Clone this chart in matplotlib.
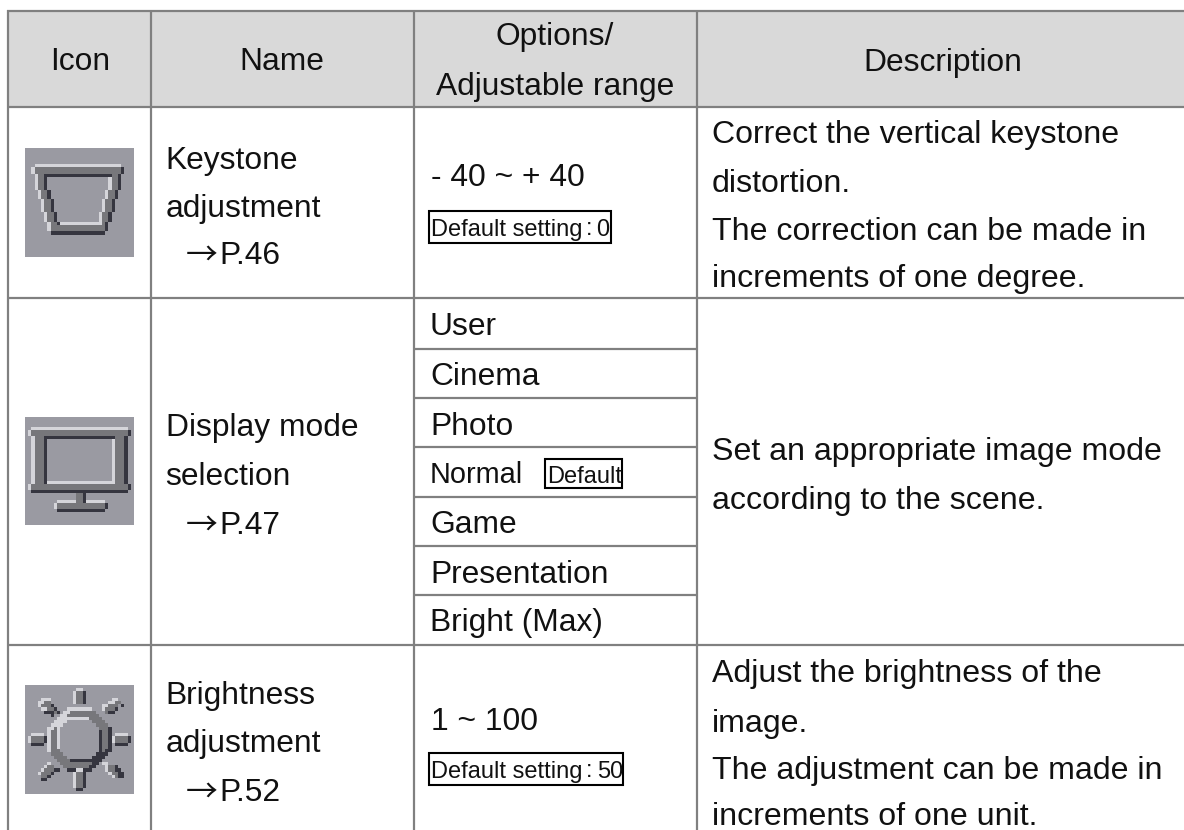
import numpy as np
import matplotlib
matplotlib.use("Agg")
import matplotlib.pyplot as plt
from matplotlib.colors import ListedColormap
from matplotlib.patches import Rectangle

plt.rcParams['font.family'] = ['Liberation Sans', 'DejaVu Sans']

headers = ["Icon", "Name", "Options/", "Adjustable range", "Description"]
names = [["Keystone", "adjustment"], ["Display mode", "selection"], ["Brightness", "adjustment"]]
pages = ["P.46", "P.47", "P.52"]
ranges = ["- 40 ~ + 40", "1 ~ 100"]
default_label = "Default setting"
default_values = ["0", "50"]
modes = ["User", "Cinema", "Photo", "Normal", "Game", "Presentation", "Bright (Max)"]
desc1 = ["Correct the vertical keystone", "distortion.", "The correction can be made in", "increments of one degree."]
desc2 = ["Set an appropriate image mode", "according to the scene."]
desc3 = ["Adjust the brightness of the", "image.", "The adjustment can be made in", "increments of one unit."]

W, H = 1184, 830
fig = plt.figure(figsize=(W/100, H/100), dpi=100)
ax = fig.add_axes([0, 0, 1, 1])
ax.set_xlim(0, W); ax.set_ylim(H, 0); ax.axis('off')

LINE = '#808080'
FS = 22.9
SMALL = 17
ax.add_patch(Rectangle((8, 11), W-8, 96, fc='#d9d9d9', ec='none', zorder=0))

def hl(y, x0, x1):
    ax.plot([x0, x1], [y, y], color=LINE, lw=1.6, solid_capstyle='butt', zorder=2)
def vl(x, y0, y1):
    ax.plot([x, x], [y0, y1], color=LINE, lw=1.6, solid_capstyle='butt', zorder=2)

for x in (8, 151, 414, 697):
    vl(x, 10, H)
for y in (11, 107, 298, 645):
    hl(y, 7, W)
for y in (349, 398, 447, 497, 546, 595):
    hl(y, 414, 697)

def t(x, y, s, ha='left', fs=FS, **kw):
    ax.text(x, y, s, ha=ha, va='center_baseline', fontsize=fs, color='#111111', zorder=3, **kw)

for x, y, s in zip((80, 282, 555, 555, 943), (59, 59, 34, 84, 59), headers):
    t(x, y, s, ha='center')

for lines, page, ys in zip(names, pages, ((157, 205, 252), (424, 473, 522), (692, 740, 789))):
    t(165.5, ys[0], lines[0]); t(165.5, ys[1], lines[1])
    ax.text(202, ys[2], "→", ha='center', va='center_baseline', fontsize=FS,
            family=['Noto Sans CJK JP'], color='#111111', zorder=3)
    t(219, ys[2], page)

t(431, 175, ranges[0]); t(431, 718, ranges[1])
for val, y, x1, vx in zip(default_values, (227, 769), (611, 623), (596, 597)):
    ax.add_patch(Rectangle((429, y-16), x1-429, 32, fc='none', ec='black', lw=1.5, zorder=3))
    t(431, y, default_label, fs=SMALL)
    t(589, y-1, ":", ha='center', fs=SMALL)
    t(vx, y, val, fs=SMALL)

for s, y in zip(modes, (323, 373, 423, 472, 521, 571, 619)):
    t(430, y, s, fs=20.8 if s == "Normal" else FS)
ax.add_patch(Rectangle((545, 459), 77, 29, fc='none', ec='black', lw=1.5, zorder=3))
t(547, 474, "Default", fs=SMALL)

for s, y in zip(desc1, (132, 180, 228, 275)):
    t(712, y, s, fs=23.1)
for s, y in zip(desc2, (448, 497)):
    t(712, y, s, fs=23.1)
for s, y in zip(desc3, (670, 720, 767, 813)):
    t(712, y, s, fs=23.1)

BG, MID, LT, DK = 0, 1, 2, 3
cmap = ListedColormap(['#9a9aa2', '#77777b', '#d5d5da', '#35353f'])
N = 34

def icon(grid, x0, y0):
    ax.imshow(grid, cmap=cmap, vmin=0, vmax=3, extent=(x0, x0+109, y0+108, y0),
              interpolation='nearest', aspect='auto', zorder=1)

# icon 1: trapezoid
g = np.zeros((N, N), int)
steps = [(8, 12, 3), (13, 15, 4), (16, 19, 5), (20, 22, 6), (23, 25, 7)]
g[5, 3:30] = LT
g[6:8, 3:30] = MID; g[6:8, 2] = LT; g[6:8, 30] = DK
for r0, r1, c in steps:
    for r in range(r0, r1+1):
        g[r, c] = LT; g[r, c+1:c+3] = MID
        if r > 8:
            g[r, c+3] = DK
            g[r, 32-c-3] = LT; g[r, 32-c-2:32-c] = MID
        g[r, 32-c] = DK
g[8, 4:6] = MID; g[8, 27:29] = MID
g[8, 6:27] = DK
g[23, 11:24] = LT; g[23, 10] = DK
g[24:26, 8:25] = MID
g[26, 8:25] = DK
icon1 = g.copy()

# icon 2: monitor
g = np.zeros((N, N), int)
g[3, 2:32] = LT
g[4:23, 2:32] = MID
g[4:6, 1] = LT; g[4:6, 32] = DK
g[21:23, 1] = LT; g[21:23, 32] = DK
g[6:21, 2] = LT; g[6:21, 31] = DK
g[6:21, 6:28] = DK
g[7:21, 7:27] = BG
g[7:21, 27] = LT
g[20, 7:28] = LT
g[23, 2:32] = DK
g[24:27, 16:18] = MID; g[24:27, 18] = DK
g[26, 10:16] = LT; g[26, 19:25] = LT
g[27:29, 10:25] = MID; g[27:29, 9] = LT; g[27:29, 25] = DK
g[29, 10:25] = DK
icon2 = g.copy()

# icon 3: sun
g = np.zeros((N, N), int)
yy, xx = np.mgrid[0:N, 0:N]
dx, dy = xx + .5 - 17, yy + .5 - 17
outer = (abs(dx) + abs(dy) <= 13.5) & (abs(dx) <= 10) & (abs(dy) <= 10)
inner = (abs(dx) + abs(dy) <= 9) & (abs(dx) <= 6) & (abs(dy) <= 6)
g[outer] = MID
g[outer & ~np.roll(np.roll(outer, 1, 0), 1, 1)] = LT
g[outer & ~np.roll(np.roll(outer, -1, 0), -1, 1)] = DK
g[inner] = BG
g[~inner & np.roll(np.roll(inner, 1, 0), 1, 1) & outer] = DK
g[~inner & np.roll(np.roll(inner, -1, 0), -1, 1) & outer] = LT
# straight rays
g[1, 16:18] = LT; g[2:6, 15] = LT; g[2:6, 16:18] = MID; g[2:6, 18] = DK
g[26, 16:18] = LT; g[27:32, 15] = LT; g[27:32, 16:18] = MID; g[27:32, 18] = DK; g[32, 16:18] = DK
g[15, 2:6] = LT; g[16:18, 2:6] = MID; g[16:18, 1] = LT; g[18, 2:6] = DK; g[16:18, 6] = DK
g[15, 28:32] = LT; g[16:18, 28:32] = MID; g[16:18, 27] = LT; g[18, 28:32] = DK; g[16:18, 32] = DK
# diagonal rays
rays = {
 (4, 4): [".222....", "2211....", "21113...", ".22113..", "..33313.", "....3..."],
 (24, 4): ["...22...", "..2211..", "22111 3.", "21113...", ".133....", "........"],
 (4, 24): ["...2....", "..211...", ".211133.", "21113...", ".113....", ".33....."],
 (24, 24): ["22......", ".2113...", ".21133..", "..21133.", "...2133."],
}
for (c0, r0), rows in rays.items():
    for i, row in enumerate(rows):
        for j, ch in enumerate(row):
            if ch in '123':
                g[r0+i, c0+j] = int(ch)
icon3 = g.copy()

icon(icon1, 25, 149)
icon(icon2, 25, 417)
icon(icon3, 25, 686)
ax.set_xlim(0, W); ax.set_ylim(H, 0)

fig.savefig('out.png', dpi=100)
